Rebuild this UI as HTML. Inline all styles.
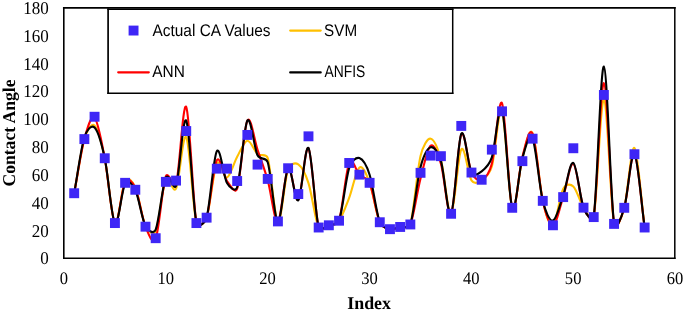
<!DOCTYPE html><html><head><meta charset="utf-8"><title>chart</title><style>html,body{margin:0;padding:0;background:#fff;overflow:hidden}svg{display:block;will-change:transform}text{font-family:"Liberation Serif",serif;fill:#000;text-rendering:geometricPrecision}.s{font-family:"Liberation Sans",sans-serif}</style></head><body>
<svg width="685" height="311" viewBox="0 0 685 311">
<rect width="685" height="311" fill="#fff"/>
<g stroke="#000" fill="none" stroke-linecap="square"><path stroke-width="1.7" d="M63.8,7.85H674.8"/><path stroke-width="1.6" d="M63.8,7.85V258.2"/><path stroke-width="1.6" d="M63.8,258.2H674.8"/><path stroke-width="1.5" d="M674.8,7.85V258.2"/></g>
<g fill="none" stroke-width="2.1" stroke-linejoin="round" stroke-linecap="round">
<path stroke="#ffc000" d="M74.19,193.23C77.58,175.18 80.98,150.38 84.37,139.09C86.82,130.96 91.16,122.30 94.56,125.49C97.96,128.68 101.35,141.99 104.75,158.25C108.14,174.51 111.54,219.28 114.93,223.07C118.33,226.87 121.72,186.98 125.12,181.01C128.07,175.82 132.85,181.81 135.31,187.26C138.70,194.78 142.10,218.84 145.49,226.12C147.88,231.24 153.44,236.16 155.68,230.98C159.08,223.12 162.47,185.99 165.87,178.93C168.92,172.59 172.96,194.97 176.05,188.65C179.45,181.71 182.84,131.55 186.24,137.29C189.64,143.03 193.03,209.68 196.43,223.07C197.84,228.66 204.74,223.11 206.61,217.66C210.01,207.76 213.40,170.35 216.80,163.66C220.20,156.98 223.59,178.70 226.99,177.54C230.38,176.39 233.78,162.85 237.17,156.72C240.57,150.59 243.96,141.22 247.36,140.76C250.76,140.30 254.15,151.05 257.55,153.95C260.94,156.84 266.14,152.84 267.73,158.11C271.13,169.35 274.52,219.55 277.92,221.41C281.32,223.26 284.71,178.72 288.11,169.21C290.00,163.90 294.90,162.04 298.29,164.36C301.69,166.67 305.21,172.95 308.48,183.09C311.88,193.62 315.27,220.48 318.67,227.51C320.93,232.21 325.46,226.43 328.85,225.29C332.25,224.16 335.73,225.21 339.04,220.71C342.44,216.11 345.83,206.53 349.23,197.67C352.62,188.81 356.02,170.02 359.41,167.55C362.81,165.07 366.40,174.22 369.60,182.82C373.00,191.93 376.39,214.51 379.79,222.24C382.27,227.88 386.58,228.39 389.97,229.18C393.37,229.97 396.76,227.74 400.16,226.96C403.56,226.17 408.90,229.50 410.35,224.46C413.74,212.64 417.14,170.32 420.53,156.03C422.86,146.24 427.32,138.10 430.72,138.68C434.12,139.26 437.87,148.31 440.91,159.50C444.30,172.01 447.70,215.44 451.09,213.77C454.49,212.11 457.88,155.08 461.28,149.50C464.68,143.93 468.07,175.18 471.47,180.32C474.28,184.57 478.26,182.63 481.65,180.32C485.05,178.01 489.42,174.70 491.84,166.44C495.24,154.87 498.63,104.02 502.03,110.92C505.42,117.81 508.82,199.94 512.21,207.80C515.61,215.67 519.00,170.56 522.40,158.11C525.80,145.66 529.19,126.00 532.59,133.12C535.98,140.25 539.38,185.50 542.77,200.86C545.63,213.78 549.56,227.28 552.96,225.29C556.36,223.30 559.75,195.40 563.15,188.92C565.58,184.28 569.94,183.30 573.33,186.43C576.73,189.55 580.12,202.55 583.52,207.66C586.92,212.78 592.42,223.93 593.71,217.10C597.10,199.13 600.50,98.68 603.89,99.81C607.29,100.95 610.68,205.91 614.08,223.90C615.85,233.27 621.80,217.00 624.27,207.80C627.66,195.15 631.06,144.69 634.45,147.98C637.85,151.26 641.24,201.00 644.64,227.51"/>
<path stroke="#ff0000" d="M74.19,193.23C77.58,175.18 80.98,151.66 84.37,139.09C87.45,127.72 91.16,114.66 94.56,117.86C97.96,121.05 101.35,140.71 104.75,158.25C108.14,175.78 111.54,219.16 114.93,223.07C118.33,226.98 121.72,187.56 125.12,181.71C128.12,176.54 132.84,182.51 135.31,187.95C138.70,195.45 142.10,218.24 145.49,226.68C148.42,233.96 152.75,245.89 155.68,238.62C159.08,230.20 162.47,185.18 165.87,176.15C168.18,170.00 174.20,190.79 176.05,184.48C179.45,172.94 182.84,100.46 186.24,106.89C189.64,113.32 193.03,204.61 196.43,223.07C197.47,228.74 204.83,223.14 206.61,217.66C210.01,207.20 213.40,166.44 216.80,160.33C220.20,154.22 223.59,176.29 226.99,181.01C230.38,185.73 235.14,194.68 237.17,188.65C240.57,178.58 243.96,127.11 247.36,120.63C250.76,114.15 254.15,139.83 257.55,149.78C260.94,159.73 264.34,168.38 267.73,180.32C271.13,192.26 274.52,223.42 277.92,221.41C281.32,219.39 284.71,171.85 288.11,168.24C291.50,164.63 294.90,203.06 298.29,199.75C301.69,196.44 305.08,143.77 308.48,148.39C311.88,153.02 315.27,214.70 318.67,227.51C320.00,232.55 325.46,226.43 328.85,225.29C332.25,224.16 337.30,226.02 339.04,220.71C342.44,210.32 345.83,170.65 349.23,162.97C352.36,155.89 356.02,171.32 359.41,174.63C362.81,177.94 367.03,176.81 369.60,182.82C373.00,190.75 376.39,214.51 379.79,222.24C382.27,227.88 386.58,228.39 389.97,229.18C393.37,229.97 396.76,227.74 400.16,226.96C403.56,226.17 408.31,229.29 410.35,224.46C413.74,216.39 417.14,191.65 420.53,178.51C423.93,165.37 427.32,148.09 430.72,145.62C434.12,143.14 437.94,153.74 440.91,163.66C444.30,175.02 447.70,218.63 451.09,213.77C454.49,208.91 457.88,141.38 461.28,134.51C464.68,127.64 468.07,165.00 471.47,172.55C474.03,178.24 478.26,181.24 481.65,179.76C485.05,178.28 489.39,172.87 491.84,163.66C495.24,150.92 498.63,95.93 502.03,103.28C505.42,110.64 508.82,198.90 512.21,207.80C515.61,216.71 519.00,169.05 522.40,156.72C525.73,144.64 529.19,126.46 532.59,133.82C535.98,141.18 539.38,185.62 542.77,200.86C545.65,213.78 549.56,225.92 552.96,225.29C556.36,224.67 559.75,207.39 563.15,197.11C566.54,186.84 569.94,161.90 573.33,163.66C576.73,165.42 580.12,198.76 583.52,207.66C585.99,214.15 592.59,223.95 593.71,217.10C597.10,196.35 600.50,82.02 603.89,83.16C607.29,84.29 610.68,203.13 614.08,223.90C615.62,233.31 621.59,216.95 624.27,207.80C627.66,196.19 631.06,150.94 634.45,154.22C637.85,157.51 641.24,203.08 644.64,227.51"/>
<path stroke="#000000" d="M74.19,193.23C77.58,174.58 80.98,148.23 84.37,137.29C86.46,130.57 91.16,124.08 94.56,127.57C97.96,131.07 101.37,142.44 104.75,158.25C108.14,174.17 111.54,218.81 114.93,223.07C118.33,227.33 121.72,189.29 125.12,183.79C128.26,178.70 132.72,184.65 135.31,190.04C138.70,197.09 142.10,219.53 145.49,226.12C147.96,230.91 153.60,234.56 155.68,229.59C159.08,221.50 162.47,184.83 165.87,177.54C168.65,171.58 173.84,192.07 176.05,185.87C179.45,176.39 182.84,114.43 186.24,120.63C189.64,126.83 193.03,206.90 196.43,223.07C197.61,228.72 205.04,223.21 206.61,217.66C210.01,205.67 213.40,156.93 216.80,151.17C220.20,145.41 223.59,177.08 226.99,183.09C229.69,187.89 235.47,192.49 237.17,187.26C240.57,176.85 243.96,125.95 247.36,120.63C250.76,115.31 254.15,148.39 257.55,155.33C260.26,160.87 265.92,156.38 267.73,162.27C271.13,173.29 274.52,220.41 277.92,221.41C281.32,222.40 284.71,171.78 288.11,168.24C291.50,164.70 294.90,203.55 298.29,200.17C301.69,196.79 305.08,143.42 308.48,147.98C311.88,152.53 315.27,214.63 318.67,227.51C320.00,232.55 325.46,226.43 328.85,225.29C332.25,224.16 337.17,225.97 339.04,220.71C342.44,211.13 345.83,178.26 349.23,167.83C351.40,161.13 356.02,156.95 359.41,158.11C362.81,159.27 366.64,165.46 369.60,174.77C373.00,185.45 376.39,213.17 379.79,222.24C381.95,228.01 386.58,228.39 389.97,229.18C393.37,229.97 396.76,227.74 400.16,226.96C403.56,226.17 408.66,229.42 410.35,224.46C413.74,214.49 417.14,180.00 420.53,167.13C423.38,156.35 427.32,148.32 430.72,147.28C434.12,146.24 438.42,152.76 440.91,160.89C444.30,171.97 447.70,218.28 451.09,213.77C454.49,209.26 457.88,140.69 461.28,133.82C464.68,126.95 468.07,166.30 471.47,172.55C473.92,177.05 478.26,173.82 481.65,171.30C485.05,168.77 489.14,165.59 491.84,157.42C495.24,147.12 498.63,101.13 502.03,109.53C505.42,117.93 508.82,199.71 512.21,207.80C515.61,215.90 519.00,169.63 522.40,158.11C525.50,147.59 529.19,131.55 532.59,138.68C535.98,145.80 539.38,187.21 542.77,200.86C545.45,211.63 549.56,221.45 552.96,220.57C556.36,219.69 559.75,205.21 563.15,195.59C566.54,185.96 569.94,160.82 573.33,162.83C576.73,164.84 580.12,198.62 583.52,207.66C585.96,214.16 592.71,223.97 593.71,217.10C597.10,193.57 600.50,65.36 603.89,66.50C607.29,67.63 610.68,200.35 614.08,223.90C615.44,233.33 621.60,216.95 624.27,207.80C627.66,196.14 631.06,150.66 634.45,153.95C637.85,157.23 641.24,202.99 644.64,227.51"/>
</g>
<g fill="#3e26f6">
<rect x="69.24" y="188.28" width="9.9" height="9.9"/>
<rect x="79.42" y="134.14" width="9.9" height="9.9"/>
<rect x="89.61" y="111.80" width="9.9" height="9.9"/>
<rect x="99.80" y="153.30" width="9.9" height="9.9"/>
<rect x="109.98" y="218.12" width="9.9" height="9.9"/>
<rect x="120.17" y="177.87" width="9.9" height="9.9"/>
<rect x="130.36" y="184.81" width="9.9" height="9.9"/>
<rect x="140.54" y="221.73" width="9.9" height="9.9"/>
<rect x="150.73" y="233.25" width="9.9" height="9.9"/>
<rect x="160.92" y="176.90" width="9.9" height="9.9"/>
<rect x="171.10" y="175.65" width="9.9" height="9.9"/>
<rect x="181.29" y="126.09" width="9.9" height="9.9"/>
<rect x="191.48" y="218.12" width="9.9" height="9.9"/>
<rect x="201.66" y="212.71" width="9.9" height="9.9"/>
<rect x="211.85" y="163.71" width="9.9" height="9.9"/>
<rect x="222.04" y="163.71" width="9.9" height="9.9"/>
<rect x="232.22" y="176.06" width="9.9" height="9.9"/>
<rect x="242.41" y="129.98" width="9.9" height="9.9"/>
<rect x="252.60" y="159.68" width="9.9" height="9.9"/>
<rect x="262.78" y="173.98" width="9.9" height="9.9"/>
<rect x="272.97" y="216.46" width="9.9" height="9.9"/>
<rect x="283.16" y="163.29" width="9.9" height="9.9"/>
<rect x="293.34" y="189.11" width="9.9" height="9.9"/>
<rect x="303.53" y="131.37" width="9.9" height="9.9"/>
<rect x="313.72" y="222.56" width="9.9" height="9.9"/>
<rect x="323.90" y="220.34" width="9.9" height="9.9"/>
<rect x="334.09" y="215.76" width="9.9" height="9.9"/>
<rect x="344.28" y="158.02" width="9.9" height="9.9"/>
<rect x="354.46" y="169.68" width="9.9" height="9.9"/>
<rect x="364.65" y="177.87" width="9.9" height="9.9"/>
<rect x="374.84" y="217.29" width="9.9" height="9.9"/>
<rect x="385.02" y="224.23" width="9.9" height="9.9"/>
<rect x="395.21" y="222.01" width="9.9" height="9.9"/>
<rect x="405.40" y="219.51" width="9.9" height="9.9"/>
<rect x="415.58" y="167.87" width="9.9" height="9.9"/>
<rect x="425.77" y="150.66" width="9.9" height="9.9"/>
<rect x="435.96" y="151.22" width="9.9" height="9.9"/>
<rect x="446.14" y="208.82" width="9.9" height="9.9"/>
<rect x="456.33" y="120.96" width="9.9" height="9.9"/>
<rect x="466.52" y="167.60" width="9.9" height="9.9"/>
<rect x="476.70" y="174.81" width="9.9" height="9.9"/>
<rect x="486.89" y="144.69" width="9.9" height="9.9"/>
<rect x="497.08" y="106.38" width="9.9" height="9.9"/>
<rect x="507.26" y="202.85" width="9.9" height="9.9"/>
<rect x="517.45" y="156.21" width="9.9" height="9.9"/>
<rect x="527.64" y="133.73" width="9.9" height="9.9"/>
<rect x="537.82" y="195.91" width="9.9" height="9.9"/>
<rect x="548.01" y="220.34" width="9.9" height="9.9"/>
<rect x="558.20" y="192.16" width="9.9" height="9.9"/>
<rect x="568.38" y="143.30" width="9.9" height="9.9"/>
<rect x="578.57" y="202.71" width="9.9" height="9.9"/>
<rect x="588.76" y="212.15" width="9.9" height="9.9"/>
<rect x="598.94" y="90.00" width="9.9" height="9.9"/>
<rect x="609.13" y="218.95" width="9.9" height="9.9"/>
<rect x="619.32" y="202.85" width="9.9" height="9.9"/>
<rect x="629.50" y="149.27" width="9.9" height="9.9"/>
<rect x="639.69" y="222.56" width="9.9" height="9.9"/>
</g>
<g stroke="#000" fill="none" stroke-linecap="square"><rect x="108.1" y="9.3" width="344.6" height="83.85" fill="#fff" stroke="none"/><path stroke-width="1.5" d="M108.1,9.3H452.7"/><path stroke-width="1.7" d="M108.1,9.3V93.15"/><path stroke-width="1.5" d="M108.1,93.15H452.7"/><path stroke-width="1.5" d="M452.7,9.3V93.15"/></g>
<rect x="128.6" y="25.6" width="9.9" height="9.9" fill="#3e26f6"/>
<g stroke-width="2.2" fill="none" stroke-linecap="round"><path stroke="#ffc000" d="M290.2,30.6H320.7"/><path stroke="#ff0000" d="M118.2,72.35H148.8"/><path stroke="#000" d="M290.2,72.4H320.7"/></g>
<g class="s" font-size="16.8" fill="#1a1a1a">
<text class="s" x="152.5" y="35.5" textLength="118" lengthAdjust="spacingAndGlyphs">Actual CA Values</text>
<text class="s" x="324.1" y="35.5" textLength="33" lengthAdjust="spacingAndGlyphs">SVM</text>
<text class="s" x="152.3" y="77.3" textLength="32.6" lengthAdjust="spacingAndGlyphs">ANN</text>
<text class="s" x="324.5" y="77.3" textLength="40.8" lengthAdjust="spacingAndGlyphs">ANFIS</text>
</g>
<g font-size="18.0" text-anchor="end">
<text transform="translate(48.75,264.40) scale(0.945,1)">0</text>
<text transform="translate(48.75,236.58) scale(0.945,1)">20</text>
<text transform="translate(48.75,208.76) scale(0.945,1)">40</text>
<text transform="translate(48.75,180.93) scale(0.945,1)">60</text>
<text transform="translate(48.75,153.11) scale(0.945,1)">80</text>
<text transform="translate(48.75,125.29) scale(0.945,1)">100</text>
<text transform="translate(48.75,97.47) scale(0.945,1)">120</text>
<text transform="translate(48.75,69.64) scale(0.945,1)">140</text>
<text transform="translate(48.75,41.82) scale(0.945,1)">160</text>
<text transform="translate(48.75,14.00) scale(0.945,1)">180</text>
</g>
<g font-size="17.7" text-anchor="middle">
<text transform="translate(63.80,284.4) scale(0.935,1)">0</text>
<text transform="translate(165.67,284.4) scale(0.935,1)">10</text>
<text transform="translate(267.53,284.4) scale(0.935,1)">20</text>
<text transform="translate(369.40,284.4) scale(0.935,1)">30</text>
<text transform="translate(471.27,284.4) scale(0.935,1)">40</text>
<text transform="translate(573.13,284.4) scale(0.935,1)">50</text>
<text transform="translate(675.00,284.4) scale(0.935,1)">60</text>
</g>
<text x="369.1" y="308.6" font-size="17.9" font-weight="bold" text-anchor="middle">Index</text>
<text transform="translate(14.5,133.0) rotate(-90) scale(0.977,1)" font-size="18.05" font-weight="bold" text-anchor="middle">Contact Angle</text>
</svg></body></html>
